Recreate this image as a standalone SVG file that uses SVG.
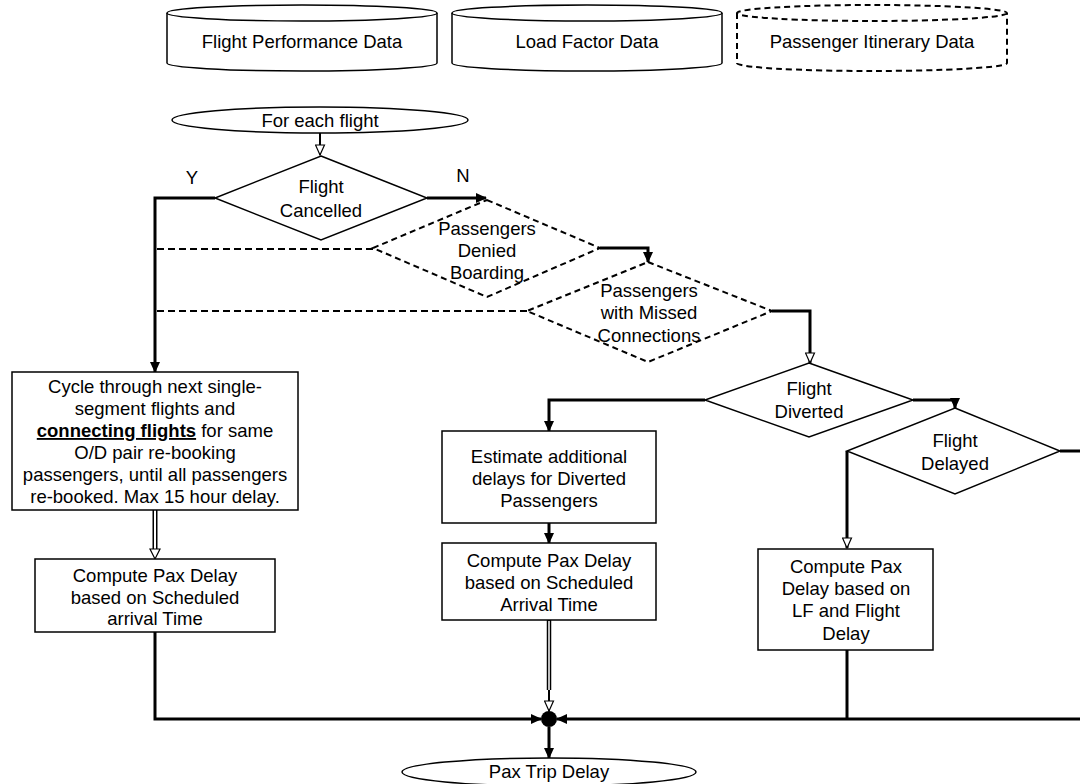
<svg xmlns="http://www.w3.org/2000/svg" width="1080" height="784" viewBox="0 0 1080 784">
<style>
text{font-family:"Liberation Sans",Arial,sans-serif;font-size:18.5px;fill:#000;text-anchor:middle}
.box{fill:#fff;stroke:#000;stroke-width:1.5}
.dash{fill:#fff;stroke:#000;stroke-width:2;stroke-dasharray:6,4}
.thick{fill:none;stroke:#000;stroke-width:3}
.thin{fill:none;stroke:#000;stroke-width:2}
.dline{fill:none;stroke:#000;stroke-width:2;stroke-dasharray:7,4}
.openhead{fill:#fff;stroke:#000;stroke-width:1.2}
</style>
<defs>
<marker id="fa" markerUnits="userSpaceOnUse" markerWidth="11" markerHeight="10" refX="10" refY="5" orient="auto">
<path d="M0,0 L11,5 L0,10 z" fill="#000"/>
</marker>
<marker id="oa" markerUnits="userSpaceOnUse" markerWidth="12" markerHeight="11" refX="11" refY="5.5" orient="auto">
<path d="M1,1 L11,5.5 L1,10 z" fill="#fff" stroke="#000" stroke-width="1.2"/>
</marker>
</defs>

<g id="connectors">
<path class="thin" d="M320,133 V155" marker-end="url(#oa)"/>
<path class="thick" d="M215,198 H155 V372" marker-end="url(#fa)"/>
<path class="thick" d="M427,198 H486" marker-end="url(#fa)"/>
<path class="dline" d="M373,249 H155"/>
<path class="dline" d="M527,311 H155"/>
<path class="thick" d="M600,248 H648 V262" marker-end="url(#fa)"/>
<path class="thick" d="M772,311 H810 V363" marker-end="url(#oa)"/>
<path class="thick" d="M705,400 H549 V431" marker-end="url(#fa)"/>
<path class="thick" d="M913,400 H955 V408" marker-end="url(#fa)"/>
<path class="thick" d="M1060,451 H1090 V719"/>
<path class="thick" d="M847,451 V548" marker-end="url(#oa)"/>
<path class="thick" d="M549,523 V543" marker-end="url(#fa)"/>
<path d="M155,510 V549" stroke="#000" stroke-width="5"/>
<path d="M155,510 V549" stroke="#fff" stroke-width="2"/>
<polygon class="openhead" points="150,549 160,549 155,559"/>
<path d="M549,620 V690" stroke="#000" stroke-width="4.5"/>
<path d="M549,621 V690" stroke="#fff" stroke-width="1.5"/>
<path class="thin" d="M549,690 V711" marker-end="url(#oa)"/>
<path class="thick" d="M155,632 V719 H541" marker-end="url(#fa)"/>
<path class="thick" d="M1090,719 H557" marker-end="url(#fa)"/>
<path class="thick" d="M847,650 V719"/>
<path class="thick" d="M549,727 V758" marker-end="url(#fa)"/>
<circle cx="549" cy="719" r="8" fill="#000"/>
</g>

<g id="db-flight-performance">
<path class="box" d="M167,13 V63 A135,8 0 0 0 437,63 V13"/>
<ellipse class="box" cx="302" cy="13" rx="135" ry="8"/>
<text x="302" y="48">Flight Performance Data</text>
</g>
<g id="db-load-factor">
<path class="box" d="M452,13 V63 A135,8 0 0 0 722,63 V13"/>
<ellipse class="box" cx="587" cy="13" rx="135" ry="8"/>
<text x="587" y="48">Load Factor Data</text>
</g>
<g id="db-passenger-itinerary">
<path class="dash" d="M737,13 V63 A135,8 0 0 0 1007,63 V13"/>
<ellipse class="dash" cx="872" cy="13" rx="135" ry="8"/>
<text x="872" y="48">Passenger Itinerary Data</text>
</g>

<g id="start">
<ellipse class="box" cx="320" cy="120" rx="148" ry="13"/>
<text x="320" y="127">For each flight</text>
</g>

<g id="flight-cancelled">
<polygon class="box" points="321,156 427,198 321,240 215,198"/>
<text x="321" y="193">Flight</text>
<text x="321" y="217">Cancelled</text>
</g>
<g id="label-y"><text x="192" y="184">Y</text></g>
<g id="label-n"><text x="463" y="182">N</text></g>

<g id="denied-boarding">
<polygon class="dash" fill-opacity="0" points="487,200 600,248 487,297 373,248" style="fill:none"/>
<text x="487" y="235">Passengers</text>
<text x="487" y="257">Denied</text>
<text x="487" y="279">Boarding</text>
</g>

<g id="missed-connections">
<polygon class="dash" points="648,262 772,311 648,362 527,311" style="fill:none"/>
<text x="649" y="297">Passengers</text>
<text x="649" y="319">with Missed</text>
<text x="649" y="342">Connections</text>
</g>

<g id="flight-diverted">
<polygon class="box" points="809,363 913,400 809,437 705,400"/>
<text x="809" y="395">Flight</text>
<text x="809" y="418">Diverted</text>
</g>

<g id="flight-delayed">
<polygon class="box" points="955,408 1060,451 955,494 847,451"/>
<text x="955" y="447">Flight</text>
<text x="955" y="470">Delayed</text>
</g>

<g id="cycle-rebooking">
<rect class="box" x="12" y="372" width="286" height="138"/>
<text x="155" y="393">Cycle through next single-</text>
<text x="155" y="415">segment flights and</text>
<text x="155" y="437"><tspan font-weight="bold" text-decoration="underline">connecting flights</tspan> for same</text>
<text x="155" y="459">O/D pair re-booking</text>
<text x="155" y="481">passengers, until all passengers</text>
<text x="155" y="503">re-booked. Max 15 hour delay.</text>
</g>

<g id="compute-scheduled-1">
<rect class="box" x="35" y="559" width="240" height="73"/>
<text x="155" y="582">Compute Pax Delay</text>
<text x="155" y="604">based on Scheduled</text>
<text x="155" y="625">arrival Time</text>
</g>

<g id="estimate-diverted">
<rect class="box" x="442" y="431" width="214" height="92"/>
<text x="549" y="463">Estimate additional</text>
<text x="549" y="485">delays for Diverted</text>
<text x="549" y="507">Passengers</text>
</g>

<g id="compute-scheduled-2">
<rect class="box" x="442" y="543" width="214" height="77"/>
<text x="549" y="567">Compute Pax Delay</text>
<text x="549" y="589">based on Scheduled</text>
<text x="549" y="611">Arrival Time</text>
</g>

<g id="compute-lf">
<rect class="box" x="758" y="549" width="175" height="101"/>
<text x="846" y="573">Compute Pax</text>
<text x="846" y="595">Delay based on</text>
<text x="846" y="617">LF and Flight</text>
<text x="846" y="640">Delay</text>
</g>

<g id="end">
<ellipse class="box" cx="549" cy="772" rx="147" ry="14"/>
<text x="549" y="778">Pax Trip Delay</text>
</g>
</svg>
